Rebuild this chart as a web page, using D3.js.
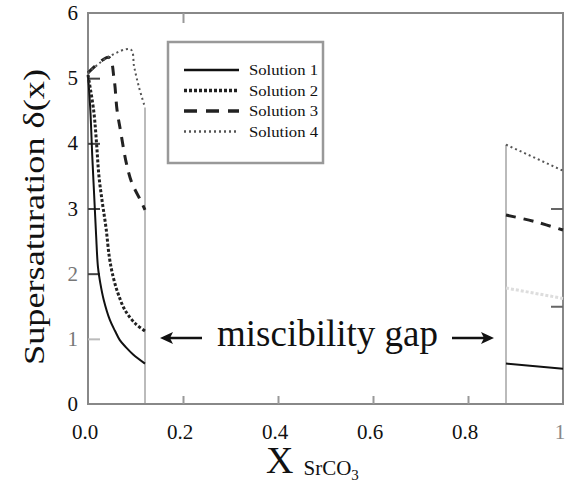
<!DOCTYPE html>
<html>
<head>
<meta charset="utf-8">
<script src="https://cdn.jsdelivr.net/npm/d3@7"></script>
<style>
  body { margin: 0; background: #fff; }
</style>
</head>
<body>
<svg id="chart" width="573" height="484"></svg>
<script>
// values
var xTicks = [0.0, 0.2, 0.4, 0.6, 0.8, 1];
var yTicks = [0, 1, 2, 3, 4, 5, 6];
var gapBounds = [0.12, 0.88];
var gapTops = [4.55, 3.98];

var sol1Left = [[0, 5.05], [0.005, 4.5], [0.009, 3.8], [0.013, 3.2], [0.017, 2.6], [0.021, 2.1], [0.026, 1.85], [0.033, 1.6], [0.046, 1.29], [0.057, 1.12], [0.067, 0.98], [0.08, 0.87], [0.095, 0.76], [0.12, 0.62]];
var sol1Right = [[0.88, 0.62], [1.0, 0.54]];
var sol2Left = [[0, 5.05], [0.012, 4.5], [0.018, 4.0], [0.023, 3.5], [0.03, 3.1], [0.038, 2.7], [0.045, 2.25], [0.053, 1.95], [0.064, 1.68], [0.078, 1.44], [0.099, 1.24], [0.12, 1.12]];
var sol2Right = [[0.88, 1.78], [1.0, 1.62]];
var sol3Left = [[0, 5.08], [0.044, 5.32], [0.055, 4.98], [0.061, 4.52], [0.069, 4.17], [0.08, 3.72], [0.092, 3.4], [0.111, 3.12], [0.12, 2.98]];
var sol3Right = [[0.88, 2.9], [0.94, 2.8], [1.0, 2.67]];
var sol4Left = [[0, 5.08], [0.044, 5.33], [0.09, 5.44], [0.097, 5.18], [0.107, 4.87], [0.12, 4.55]];
var sol4Right = [[0.88, 3.98], [1.0, 3.58]];

var seriesNames = ["Solution 1", "Solution 2", "Solution 3", "Solution 4"];

var serif = "'Liberation Serif', 'Times New Roman', Times, serif";
var svg = d3.select("#chart");
var x = d3.scaleLinear().domain([0, 1]).range([88, 563]);
var y = d3.scaleLinear().domain([0, 6]).range([404, 13]);

var styles = [
  { stroke: "#111", width: 2, dash: null },
  { stroke: "#222", width: 3, dash: "3,2" },
  { stroke: "#222", width: 3, dash: "10,8" },
  { stroke: "#555", width: 2, dash: "2,3" }
];

// gap boundary lines
svg.selectAll(".gapline")
  .data(gapBounds)
  .join("line")
  .attr("x1", d => x(d)).attr("x2", d => x(d))
  .attr("y1", y(0)).attr("y2", (d, i) => y(gapTops[i]))
  .attr("stroke", "#bbb").attr("stroke-width", 2);

// frame
svg.append("rect")
  .attr("x", x(0)).attr("y", y(6))
  .attr("width", x(1) - x(0)).attr("height", y(0) - y(6))
  .attr("fill", "none").attr("stroke", "#888").attr("stroke-width", 2);

// inward ticks
var leftAxis = d3.axisRight(y).tickValues(yTicks.slice(1, 6)).tickSize(12).tickFormat("");
svg.append("g").attr("transform", `translate(${x(0)},0)`).call(leftAxis)
  .call(g => g.select(".domain").remove())
  .call(g => g.selectAll("line").attr("stroke", (d) => d === 1 ? "#bbb" : "#444").attr("stroke-width", 2));

var rightAxis = d3.axisLeft(y).tickValues([1.5, 3]).tickSize(12).tickFormat("");
svg.append("g").attr("transform", `translate(${x(1)},0)`).call(rightAxis)
  .call(g => g.select(".domain").remove())
  .call(g => g.selectAll("line").attr("stroke", "#666").attr("stroke-width", 2));

var bottomAxis = d3.axisTop(x).tickValues(xTicks.slice(1, 5)).tickSize(8).tickFormat("");
svg.append("g").attr("transform", `translate(0,${y(0)})`).call(bottomAxis)
  .call(g => g.select(".domain").remove())
  .call(g => g.selectAll("line").attr("stroke", "#999").attr("stroke-width", 2));

var topAxis = d3.axisBottom(x).tickValues([0.2]).tickSize(10).tickFormat("");
svg.append("g").attr("transform", `translate(0,${y(6)})`).call(topAxis)
  .call(g => g.select(".domain").remove())
  .call(g => g.selectAll("line").attr("stroke", "#999").attr("stroke-width", 2));

// tick labels
svg.append("g").selectAll("text")
  .data(yTicks)
  .join("text")
  .attr("x", 78).attr("y", d => y(d) + 7)
  .attr("text-anchor", "end")
  .attr("font-family", serif)
  .attr("font-size", 21)
  .attr("fill", d => (d === 1 || d === 2) ? "#777" : "#111")
  .text(d => d);

svg.append("g").selectAll("text")
  .data(xTicks)
  .join("text")
  .attr("x", d => x(d) - 3)
  .attr("y", 439)
  .attr("text-anchor", "middle")
  .attr("font-family", serif)
  .attr("font-size", 21)
  .attr("fill", d => d === 1 ? "#888" : "#111")
  .text(d => d === 1 ? "1" : d3.format(".1f")(d));

// curves
var line = d3.line().x(d => x(d[0])).y(d => y(d[1])).curve(d3.curveCatmullRom.alpha(0.5));
var segs = [
  [sol1Left, 0], [sol1Right, 0],
  [sol2Left, 1], [sol2Right, 1],
  [sol3Left, 2], [sol3Right, 2],
  [sol4Left, 3], [sol4Right, 3]
];
svg.append("g").selectAll("path")
  .data(segs)
  .join("path")
  .attr("d", d => line(d[0]))
  .attr("fill", "none")
  .attr("stroke", d => (d[0] === sol2Right) ? "#ddd" : styles[d[1]].stroke)
  .attr("stroke-width", d => styles[d[1]].width)
  .attr("stroke-dasharray", d => styles[d[1]].dash);

// legend
var lg = svg.append("g");
lg.append("rect")
  .attr("x", 168).attr("y", 42).attr("width", 155).attr("height", 121)
  .attr("fill", "#fff").attr("stroke", "#999").attr("stroke-width", 2.5);
var rows = lg.selectAll(".row").data(seriesNames).join("g")
  .attr("transform", (d, i) => `translate(0,${70 + i * 20.5})`);
rows.append("line")
  .attr("x1", 184).attr("x2", 239)
  .attr("stroke", (d, i) => styles[i].stroke)
  .attr("stroke-width", (d, i) => styles[i].width + 0.5)
  .attr("stroke-dasharray", (d, i) => i === 2 ? "13,9" : styles[i].dash);
rows.append("text")
  .attr("x", 249).attr("y", 5)
  .attr("font-family", serif)
  .attr("font-size", 15)
  .attr("textLength", 69)
  .attr("lengthAdjust", "spacingAndGlyphs")
  .attr("fill", "#111")
  .text(d => d);

// miscibility gap annotation
svg.append("text")
  .attr("x", 217).attr("y", 346)
  .attr("font-family", serif)
  .attr("font-size", 37)
  .attr("fill", "#111")
  .text("miscibility gap");
var arrows = [[202, 160], [452, 494]];
svg.selectAll(".arr").data(arrows).join("g")
  .each(function (d) {
    var g = d3.select(this);
    var dir = d[1] > d[0] ? 1 : -1;
    g.append("line")
      .attr("x1", d[0]).attr("x2", d[1] - dir * 8)
      .attr("y1", 338).attr("y2", 338)
      .attr("stroke", "#111").attr("stroke-width", 2.5);
    g.append("path")
      .attr("d", `M${d[1]},338 L${d[1] - dir * 13},332 L${d[1] - dir * 10},338 L${d[1] - dir * 13},344 Z`)
      .attr("fill", "#111");
  });

// axis titles
svg.append("text")
  .attr("transform", "translate(44,217) rotate(-90)")
  .attr("text-anchor", "middle")
  .attr("font-family", serif)
  .attr("font-size", 30)
  .attr("textLength", 296)
  .attr("lengthAdjust", "spacingAndGlyphs")
  .attr("fill", "#111")
  .text("Supersaturation δ(x)");

var xt = svg.append("text").attr("x", 266).attr("y", 473)
  .attr("font-family", serif).attr("fill", "#111");
xt.append("tspan").attr("font-size", 38).text("X");
xt.append("tspan").attr("font-size", 21).attr("dx", 10).attr("dy", 2).text("SrCO");
xt.append("tspan").attr("font-size", 15).attr("dy", 5).text("3");
</script>
</body>
</html>
